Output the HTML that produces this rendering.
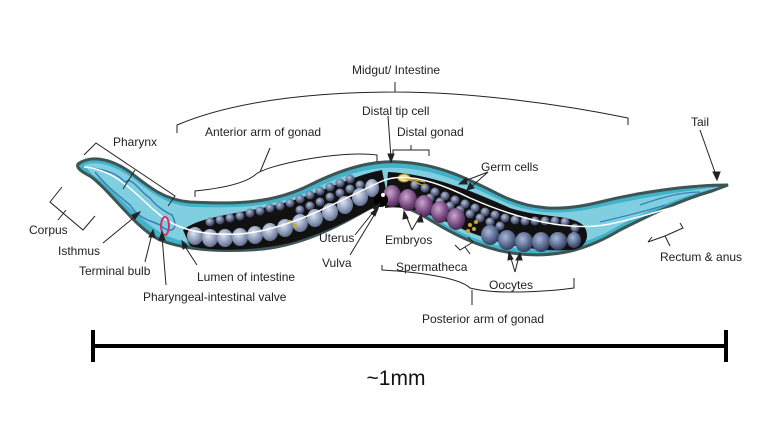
<!DOCTYPE html>
<html><head><meta charset="utf-8"><style>
html,body{margin:0;padding:0;background:#fff}
svg{display:block}
text{font-family:"Liberation Sans",sans-serif;font-size:12px;fill:#222}
</style></head><body>
<svg width="769" height="421" viewBox="0 0 769 421" xmlns="http://www.w3.org/2000/svg">
<defs>
<radialGradient id="dk" cx="0.4" cy="0.35" r="0.7"><stop offset="0" stop-color="#b8c4dc"/><stop offset="0.6" stop-color="#5b6585"/><stop offset="1" stop-color="#2c3048"/></radialGradient>
<radialGradient id="lt" cx="0.4" cy="0.35" r="0.7"><stop offset="0" stop-color="#dde4f0"/><stop offset="0.6" stop-color="#8e9cba"/><stop offset="1" stop-color="#5a6888"/></radialGradient>
<radialGradient id="pu" cx="0.4" cy="0.35" r="0.7"><stop offset="0" stop-color="#c8a8cc"/><stop offset="0.6" stop-color="#7a4c82"/><stop offset="1" stop-color="#40244a"/></radialGradient>
<radialGradient id="oo" cx="0.4" cy="0.35" r="0.7"><stop offset="0" stop-color="#a8b8d8"/><stop offset="0.6" stop-color="#5a6a90"/><stop offset="1" stop-color="#2c3450"/></radialGradient>
</defs>
<path d="M78,164 C90,155 110,158 130,172 C150,188 165,200 190,202 C230,204 270,205 310,185 C340,170 370,160 400,162 C440,164 470,180 500,195 C530,210 560,212 600,202 C640,192 690,185 728,185 L712,191 C680,200 650,215 620,230 C590,248 560,258 520,254 C480,250 450,232 420,214 C400,204 385,200 370,208 C340,225 300,248 250,250 C210,252 180,248 160,240 C135,228 110,190 90,176 C82,172 76,168 78,164 Z" fill="#42b2c8" stroke="#3d5555" stroke-width="3"/>
<path d="M84,165 C100,160 115,166 135,180 C155,196 170,206 195,207 C235,208 275,208 312,190 C342,175 370,166 400,168 C440,170 470,186 500,200 C530,214 560,216 600,207 C640,198 690,190 720,187 C680,196 650,210 620,225 C590,243 560,252 520,249 C480,245 450,228 420,210 C400,198 385,194 368,203 C340,220 300,242 250,245 C210,247 182,243 165,235 C140,222 112,188 92,174 Z" fill="#80cfe0"/>
<path d="M90,168 C110,170 118,175 125,182 C132,176 140,192 150,198 C155,205 165,212 172,215 C180,230 170,235 160,225 C150,220 140,220 130,205 C118,195 105,185 95,172" fill="none" stroke="#3a7fb8" stroke-width="1.5"/>
<path d="M183,230 C200,216 240,214 280,204 C320,194 350,176 382,170 L388,200 C360,214 330,232 290,243 C250,252 210,251 190,246 Z" fill="#111"/>
<g fill="url(#dk)">
<circle cx="210" cy="222" r="4.5"/><circle cx="220" cy="220" r="4.5"/><circle cx="230" cy="218" r="4.5"/><circle cx="240" cy="216" r="4.5"/><circle cx="250" cy="213" r="4.5"/><circle cx="260" cy="211" r="4.5"/><circle cx="270" cy="208" r="4.5"/><circle cx="280" cy="206" r="4.5"/><circle cx="290" cy="203" r="4.5"/><circle cx="300" cy="199" r="4.5"/><circle cx="310" cy="195" r="4.5"/><circle cx="320" cy="191" r="4.5"/><circle cx="330" cy="187" r="4.5"/><circle cx="340" cy="183" r="4.5"/><circle cx="350" cy="179" r="4.5"/>
<circle cx="300" cy="210" r="4.5"/><circle cx="310" cy="206" r="4.5"/><circle cx="320" cy="202" r="4.5"/><circle cx="330" cy="197" r="4.5"/><circle cx="340" cy="193" r="4.5"/><circle cx="350" cy="189" r="4.5"/><circle cx="360" cy="185" r="4.5"/>
</g>
<g fill="url(#lt)">
<ellipse cx="195" cy="236" rx="8" ry="9"/><ellipse cx="210" cy="238" rx="8" ry="9"/><ellipse cx="225" cy="238" rx="8" ry="9"/><ellipse cx="240" cy="237" rx="8" ry="9"/><ellipse cx="255" cy="235" rx="8" ry="9"/><ellipse cx="270" cy="232" rx="8" ry="9"/><ellipse cx="285" cy="228" rx="8" ry="9"/><ellipse cx="300" cy="223" rx="8" ry="9"/><ellipse cx="315" cy="218" rx="8" ry="9"/><ellipse cx="330" cy="212" rx="8" ry="9"/><ellipse cx="345" cy="205" rx="8" ry="9"/><ellipse cx="360" cy="197" rx="8" ry="9"/><ellipse cx="372" cy="188" rx="7" ry="9"/>
</g>
<path d="M388,172 C430,174 470,190 510,208 C540,218 570,214 583,225 C592,236 585,250 570,250 C540,252 500,246 460,228 C430,214 405,205 385,208 Z" fill="#111"/>
<g fill="url(#dk)">
<circle cx="415" cy="185" r="4.5"/><circle cx="425" cy="188" r="4.5"/><circle cx="435" cy="192" r="4.5"/><circle cx="445" cy="196" r="4.5"/><circle cx="455" cy="200" r="4.5"/><circle cx="465" cy="204" r="4.5"/><circle cx="475" cy="208" r="4.5"/><circle cx="485" cy="212" r="4.5"/><circle cx="495" cy="215" r="4.5"/><circle cx="505" cy="218" r="4.5"/><circle cx="515" cy="220" r="4.5"/><circle cx="525" cy="221" r="4.5"/><circle cx="535" cy="221" r="4.5"/><circle cx="545" cy="221" r="4.5"/><circle cx="555" cy="221" r="4.5"/><circle cx="565" cy="222" r="4.5"/><circle cx="575" cy="228" r="4.5"/>
<circle cx="430" cy="198" r="4.5"/><circle cx="440" cy="202" r="4.5"/><circle cx="450" cy="206" r="4.5"/><circle cx="460" cy="210" r="4.5"/><circle cx="470" cy="214" r="4.5"/><circle cx="480" cy="218" r="4.5"/><circle cx="490" cy="222" r="4.5"/><circle cx="500" cy="226" r="4.5"/>
</g>
<g fill="url(#oo)">
<ellipse cx="490" cy="235" rx="9" ry="10"/><ellipse cx="507" cy="240" rx="9" ry="10"/><ellipse cx="524" cy="242" rx="9" ry="10"/><ellipse cx="541" cy="242" rx="9" ry="10"/><ellipse cx="558" cy="241" rx="9" ry="9"/><ellipse cx="574" cy="240" rx="7" ry="8"/>
</g>
<g fill="url(#pu)">
<ellipse cx="392" cy="196" rx="9" ry="11"/><ellipse cx="408" cy="200" rx="9" ry="11"/><ellipse cx="424" cy="206" rx="9" ry="11"/><ellipse cx="440" cy="212" rx="9" ry="11"/><ellipse cx="456" cy="219" rx="9" ry="11"/>
</g>
<circle cx="381" cy="200" r="7" fill="#000"/><circle cx="383" cy="195" r="2" fill="#fff"/>
<g fill="#c8a830"><circle cx="470" cy="225" r="2"/><circle cx="474" cy="229" r="2"/><circle cx="468" cy="231" r="2"/><circle cx="476" cy="222" r="2"/><circle cx="290" cy="222" r="2"/><circle cx="295" cy="226" r="2"/></g>
<ellipse cx="404" cy="178" rx="6" ry="4" fill="#f0d8a0" stroke="#a08020"/>
<path d="M404,178 L425,182 M404,178 L425,186" stroke="#c8a830" stroke-width="1.2"/>
<path d="M84,167 C120,170 140,200 160,215 C175,228 200,236 240,234 C290,230 340,200 380,182 C400,172 430,178 470,198 C520,220 570,232 610,224 C640,218 660,210 690,203" fill="none" stroke="#fff" stroke-width="1.5"/>
<path d="M640,205 C660,198 680,192 700,192 M600,222 C630,215 650,210 665,205" fill="none" stroke="#3a7fb8" stroke-width="1.2"/>
<ellipse cx="165" cy="226" rx="4" ry="9" fill="none" stroke="#d0306a" stroke-width="2"/>
<g fill="none" stroke="#222" stroke-width="1">
<path d="M177,133 L177,125 C240,98 330,92 395,92 C470,92 560,104 628,118 L628,125 M395,92 L395,82"/>
<path d="M84,155 L96,143 L175,196 L168,206 M135,170 L123,189"/>
<path d="M195,197 L195,191 C225,188 245,183 255,175 C265,165 340,150 377,155 L377,162 M260,172 L270,148"/>
<path d="M393,156 L393,150 L429,150 L429,156 M411,150 L411,145"/>
<path d="M62,187 L50,202 L83,230 L95,216 M66,210 L58,220"/>
<path d="M382,265 L382,270 C420,272 460,278 470,288 C500,296 560,290 574,288 L574,278 M472,290 L472,305"/>
<path d="M455,245 L460,250 L473,242 L468,237 M465,247 L470,254"/>
<path d="M648,242 L652,237 M648,242 L665,236 L683,228 L680,223 M665,236 L670,246"/>
</g>
<g stroke="#222" stroke-width="1" fill="#222">
<path d="M700,130 L717,178" fill="none"/><path d="M717,180 L713,172 L720,172 Z"/>
<path d="M388,116 L391,158" fill="none"/><path d="M391,162 L388,154 L394,154 Z"/>
<path d="M488,172 L462,182 M488,172 L470,188" fill="none"/><path d="M459,184 L466,178 L467,184 Z"/><path d="M467,190 L470,183 L474,188 Z"/>
<path d="M412,230 L405,213 M412,230 L420,216" fill="none"/><path d="M404,211 L403,219 L408,218 Z"/><path d="M421,214 L418,222 L423,222 Z"/>
<path d="M515,272 L510,255 M515,272 L519,256" fill="none"/><path d="M509,252 L508,260 L513,259 Z"/><path d="M520,253 L516,260 L522,260 Z"/>
<path d="M355,235 L378,206" fill="none"/><path d="M380,203 L373,208 L377,211 Z"/>
<path d="M350,255 L376,212" fill="none"/><path d="M378,208 L371,213 L375,216 Z"/>
<path d="M103,243 L137,215" fill="none"/><path d="M140,212 L132,215 L135,219 Z"/>
<path d="M145,262 L152,234" fill="none"/><path d="M153,230 L149,237 L155,237 Z"/>
<path d="M166,285 L162,236" fill="none"/><path d="M162,232 L159,240 L165,240 Z"/>
<path d="M197,265 L184,245" fill="none"/><path d="M182,241 L183,249 L188,246 Z"/>
</g>
<text x="352" y="74">Midgut/ Intestine</text>
<text x="113" y="146">Pharynx</text>
<text x="205" y="136">Anterior arm of gonad</text>
<text x="362" y="115">Distal tip cell</text>
<text x="397" y="136">Distal gonad</text>
<text x="691" y="126">Tail</text>
<text x="481" y="171">Germ cells</text>
<text x="29" y="234">Corpus</text>
<text x="58" y="255">Isthmus</text>
<text x="79" y="275">Terminal bulb</text>
<text x="197" y="281">Lumen of intestine</text>
<text x="143" y="301">Pharyngeal-intestinal valve</text>
<text x="319" y="242">Uterus</text>
<text x="322" y="267">Vulva</text>
<text x="385" y="244">Embryos</text>
<text x="396" y="271">Spermatheca</text>
<text x="489" y="289">Oocytes</text>
<text x="660" y="261">Rectum &amp; anus</text>
<text x="422" y="323">Posterior arm of gonad</text>
<path d="M92,346 L727,346 M93,330 L93,362 M726,330 L726,362" stroke="#000" stroke-width="4"/>
<text x="396" y="385" text-anchor="middle" style="font-size:21px;fill:#111">~1mm</text>
</svg>
</body></html>
